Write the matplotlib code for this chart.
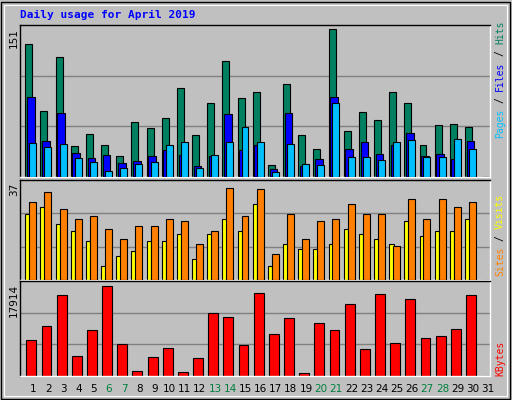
import matplotlib
matplotlib.use("Agg")
import matplotlib.pyplot as plt
from matplotlib.patches import Rectangle
import numpy as np

days = list(range(1, 32))
hits  = [132,66,119,31,43,32,21,55,49,59,88,42,74,115,78,84,12,92,42,28,147,46,65,57,84,74,32,52,53,50,0]
files = [79,36,64,24,19,22,14,16,21,27,22,11,21,63,27,32,8,64,11,18,79,28,35,23,32,44,21,23,18,36,0]
pages = [34,30,33,19,15,6,9,13,15,32,35,9,22,35,50,35,5,33,13,12,74,20,20,17,35,37,20,20,38,28,0]
visits = [25.0,28.0,21.2,18.6,14.8,5.3,9.1,11.0,14.8,14.8,17.4,8.0,17.4,23.1,18.6,28.8,5.3,13.6,11.7,11.7,13.6,19.3,17.4,15.5,13.6,22.4,16.7,18.6,18.6,23.1,0]
sites  = [29.9,33.7,26.9,23.1,24.2,19.3,15.5,20.5,20.5,23.1,22.4,13.6,18.6,35.2,24.2,34.5,9.8,25.0,15.5,22.4,23.1,28.8,25.0,25.0,12.9,30.7,23.1,30.7,28.0,29.9,0]
kbytes = [6924,9592,15500,3875,8830,17406,6162,1016,3684,5400,826,3494,12070,11307,5971,15881,8068,11117,635,10164,8830,13785,5209,15691,6352,14738,7305,7686,9020,15500,0]
weekend = [6,7,13,14,20,21,27,28]
max_top, max_mid, max_bot = 151, 37, 17914

W, H = 512, 400
fig = plt.figure(figsize=(W/100, H/100), dpi=100)
fig.patch.set_facecolor("#C0C0C0")
fig.patches.append(Rectangle((1/W, 1/H), (W-3)/W, (H-3)/H, transform=fig.transFigure,
                             fill=False, edgecolor="black", lw=1))
fig.patches.append(Rectangle((4/W, 4/H), (W-9)/W, (H-9)/H, transform=fig.transFigure,
                             fill=False, edgecolor="white", lw=0.8))

def ax_px(x0, y0, x1, y1):
    return fig.add_axes([x0/W, 1-y1/H, (x1-x0)/W, (y1-y0)/H])

mono = "DejaVu Sans Mono"
x = np.arange(31)

def style(ax, ymax):
    ax.set_facecolor("#C0C0C0")
    ax.set_xlim(0, 31)
    ax.set_ylim(0, ymax)
    ax.set_xticks([]); ax.set_yticks([])
    for g in (ymax/3, 2*ymax/3):
        ax.axhline(g, color="#808080", lw=1, zorder=0)
    for s in ax.spines.values():
        s.set_color("black"); s.set_linewidth(1)
    ax.spines["bottom"].set_color("white"); ax.spines["right"].set_color("white")

a1 = ax_px(20, 25, 490, 177)
style(a1, max_top)
a1.bar(x + 0.35, hits, width=0.46, align="edge", color="#008060", edgecolor="black", lw=0.8, zorder=2)
a1.bar(x + 0.46, files, width=0.5, align="edge", color="#0000FF", edgecolor="black", lw=0.8, zorder=3)
a1.bar(x + 0.61, pages, width=0.46, align="edge", color="#00BFFF", edgecolor="black", lw=0.8, zorder=4)

a2 = ax_px(20, 180, 490, 280)
style(a2, max_mid * 1.03)
a2.bar(x + 0.35, visits, width=0.3, align="edge", color="#FFFF00", edgecolor="black", lw=0.8, zorder=2)
a2.bar(x + 0.61, sites, width=0.46, align="edge", color="#FF8000", edgecolor="black", lw=0.8, zorder=3)

a3 = ax_px(20, 281, 490, 376)
style(a3, max_bot * 1.02)
a3.bar(x + 0.42, kbytes, width=0.65, align="edge", color="#FF0000", edgecolor="black", lw=0.8, zorder=2)

for d in days:
    px = 20 + (d - 1 + 0.86) * 470 / 31
    fig.text(px/W, 1-389/H, str(d), ha="center", va="center", fontsize=7.5,
             family="DejaVu Sans", color="#008040" if d in weekend else "black")

fig.text(20/W, 1-15/H, "Daily usage for April 2019", ha="left", va="center",
         fontsize=8, family=mono, weight="bold", color="#0000FF")

for val, ytop in ((max_top, 28), (max_mid, 183), (max_bot, 284)):
    fig.text(14/W, 1-ytop/H, str(val), rotation=90, ha="center", va="top",
             fontsize=7.5, family="DejaVu Sans")

CH = 0.602 * 7 * 100 / 72  # char advance in px

def right_label(parts, ybot):
    s = 0
    for txt, col in parts:
        t = txt.strip()
        lead = len(txt) - len(txt.lstrip())
        y = ybot - (s + lead) * CH
        fig.text(500/W, 1-y/H, t, rotation=90, ha="center", va="bottom",
                 fontsize=7, family=mono, color=col)
        s += len(txt)

right_label([("Pages", "#00BFFF"), (" / ", "black"), ("Files", "#0000FF"),
             (" / ", "black"), ("Hits", "#008060")], 138)
right_label([("Sites", "#FF8000"), (" / ", "black"), ("Visits", "#FFFF00")], 276)
right_label([("KBytes", "#FF0000")], 376)

fig.savefig("out.png", dpi=100, facecolor=fig.get_facecolor())
